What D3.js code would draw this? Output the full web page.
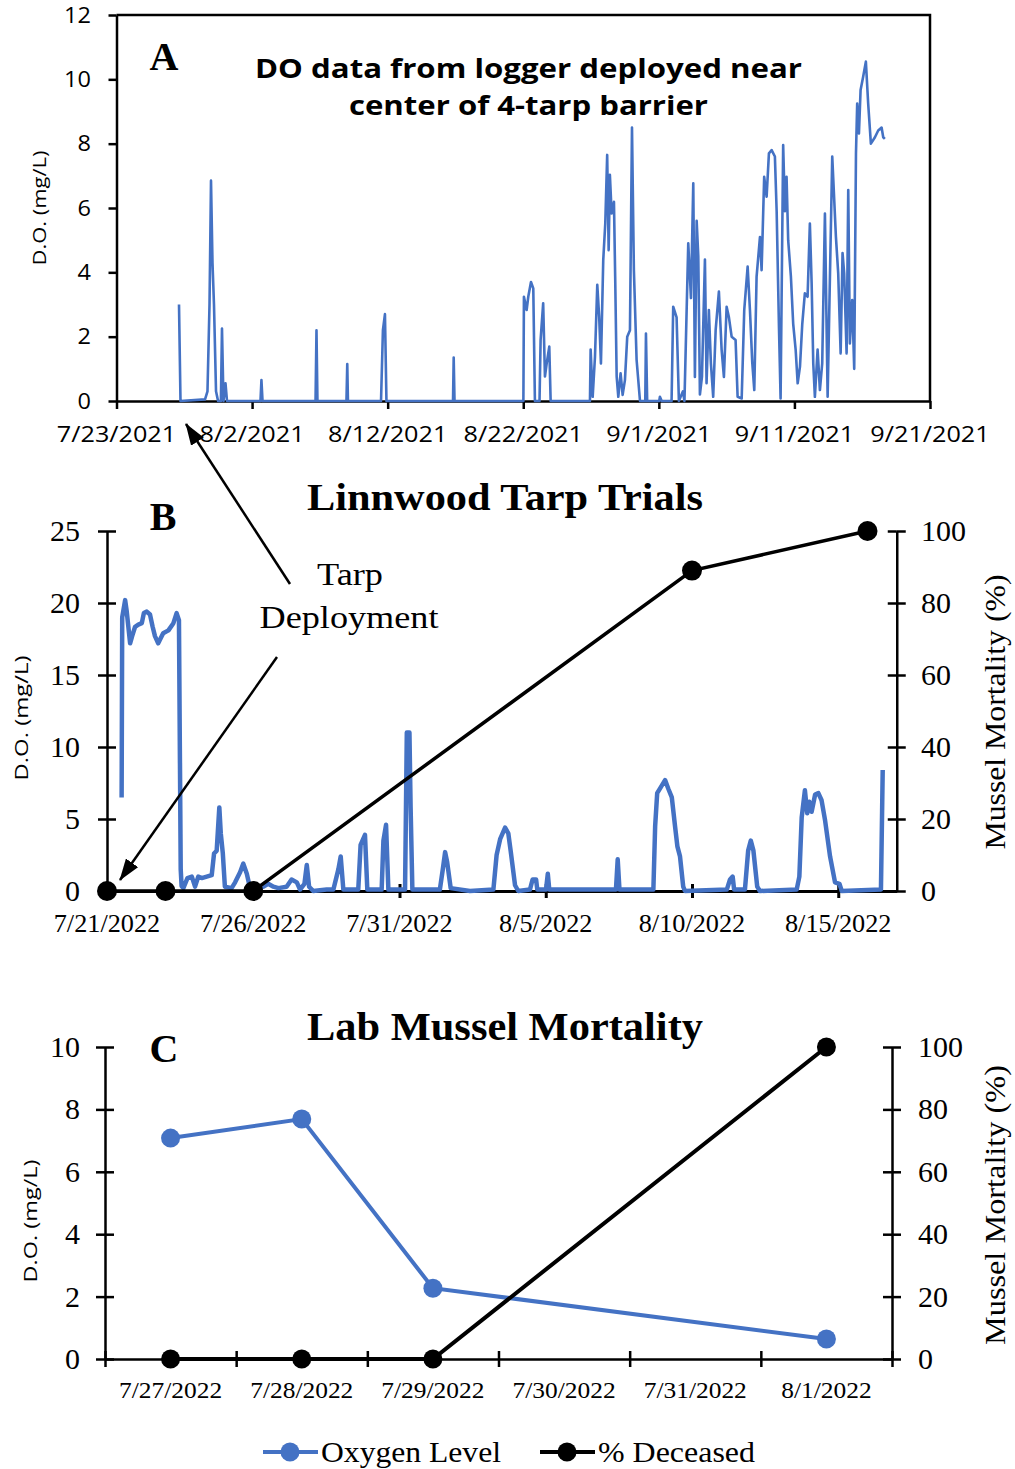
<!DOCTYPE html>
<html>
<head>
<meta charset="utf-8">
<script src="https://cdn.jsdelivr.net/npm/d3@7"></script>
<style>
  html, body { margin: 0; padding: 0; background: #fff; }
  svg { display: block; }
</style>
</head>
<body>
<svg id="fig" width="1015" height="1469"></svg>
<script>
// ---------- Panel A: logger DO, 2021 (days since 7/23/2021) ----------
const aStart = "2021-07-23";
const aTickLabels = ["7/23/2021", "8/2/2021", "8/12/2021", "8/22/2021", "9/1/2021", "9/11/2021", "9/21/2021"];
const aYTicks = [0, 2, 4, 6, 8, 10, 12];
const aDays = [
  4.61, 4.72, 6.53, 6.71, 6.86, 6.97, 7.08, 7.19, 7.34, 7.49, 7.70, 7.78, 7.89, 8.04, 8.15,
  10.62, 10.69, 10.77, 14.68, 14.75, 14.82, 16.96, 17.02, 17.07, 19.51, 19.65, 19.80, 19.91,
  24.82, 24.87, 24.93, 30.01, 30.05, 30.25, 30.37, 30.57, 30.74, 30.86, 31.20, 31.28, 31.47,
  31.60, 31.73, 31.92, 32.02, 34.92, 34.97, 35.12, 35.29, 35.46, 35.60, 35.73, 35.90, 36.05,
  36.19, 36.30, 36.39, 36.52, 36.69, 36.78, 36.89, 37.01, 37.18, 37.33, 37.50, 37.67, 37.87,
  38.02, 38.16, 38.36, 38.61, 39.00, 39.05, 39.14, 40.03, 40.08, 40.21,
  40.94, 41.06, 41.31, 41.48, 41.78, 41.89, 42.17, 42.37, 42.54, 42.66, 42.79, 42.91, 43.03,
  43.18, 43.40, 43.52, 43.69, 43.84, 44.01, 44.19, 44.43, 44.63, 44.80, 45.00, 45.17, 45.37,
  45.66, 45.81, 46.11, 46.30, 46.55, 46.72, 46.89, 47.04, 47.21, 47.46, 47.58, 47.77, 47.95,
  48.12, 48.32, 48.56, 48.69, 48.86, 48.98, 49.17, 49.30, 49.42, 49.54, 49.74, 49.91, 50.09,
  50.24, 50.41, 50.58, 50.77, 50.97, 51.14, 51.27, 51.39, 51.51, 51.71, 51.88, 52.05, 52.25,
  52.45, 52.79, 53.06, 53.23, 53.41, 53.55, 53.67, 53.85, 53.97, 54.09, 54.26, 54.41, 54.54,
  54.63, 54.76, 54.88, 55.07, 55.27, 55.44, 55.64, 55.94, 56.18, 56.43, 56.55, 56.67
];
const aDO = [
  3.0, 0, 0.05, 0.3, 3.0, 6.85, 4.3, 3.0, 0.3, 0, 0, 2.25, 0, 0.55, 0,
  0, 0.65, 0, 0, 2.2, 0, 0, 1.15, 0, 0, 2.2, 2.7, 0,
  0, 1.35, 0, 0, 3.24, 2.83, 3.24, 3.70, 3.50, 0, 0, 1.90, 3.04,
  0.76, 1.17, 1.69, 0, 0, 1.60, 0.13, 1.37, 3.61, 2.62, 1.17, 4.38, 5.52,
  7.65, 4.69, 7.03, 5.83, 6.19, 3.87, 0.76, 0.13, 0.86, 0.19, 0.65, 2.0, 2.2,
  8.5, 4.07, 1.28, 0, 0, 2.1, 0, 0, 0.13, 0,
  0, 2.93, 2.6, 0, 0.3, 0, 4.9, 3.2, 6.77, 0.75, 5.6, 4.5, 0.2,
  0.75, 4.4, 0.55, 2.83, 1.17, 0.13, 2.2, 3.4, 1.6, 0.75, 2.93, 2.6, 2.0,
  1.9, 0.13, 0.08, 2.83, 4.18, 2.83, 1.2, 0.34, 3.87, 5.1, 4.07, 6.97, 6.35,
  7.7, 7.8, 7.6, 5.9, 2.3, 0.08, 7.96, 5.9, 6.97, 5.0, 3.87, 2.4, 1.6,
  0.55, 1.07, 2.4, 3.35, 3.24, 5.52, 3.66, 1.17, 0.13, 1.6, 0.34, 1.17, 5.83,
  0.13, 7.6, 5.11, 3.97, 1.48, 4.6, 3.97, 1.48, 6.56, 1.79, 3.14, 1.0, 7.7,
  9.25, 8.32, 9.67, 10.08, 10.55, 9.25, 8.0, 8.2, 8.41, 8.5, 8.2, 8.15
];

// ---------- Panel B: Linnwood field trial, 2022 (days since 7/21/2022) ----------
const bStart = "2022-07-21";
const bTickLabels = ["7/21/2022", "7/26/2022", "7/31/2022", "8/5/2022", "8/10/2022", "8/15/2022"];
const bYTicks = [0, 5, 10, 15, 20, 25];
const bY2Ticks = [0, 20, 40, 60, 80, 100];
const bDays = [
  0.50, 0.52, 0.62, 0.67, 0.73, 0.79, 0.86, 0.96, 1.07, 1.19, 1.26, 1.36, 1.47, 1.56, 1.64,
  1.75, 1.92, 2.10, 2.27, 2.38, 2.46, 2.52, 2.55, 2.61, 2.75, 2.90, 3.01, 3.12, 3.24, 3.41,
  3.58, 3.66, 3.75, 3.84, 3.89, 3.96, 4.03, 4.26, 4.38, 4.55, 4.66, 4.78, 4.89, 5.12, 5.34,
  5.51, 5.69, 5.86, 6.14, 6.31, 6.49, 6.60, 6.75, 6.83, 6.91, 7.05, 7.51, 7.74, 7.91, 7.99,
  8.08, 8.59, 8.67, 8.82, 8.90, 9.39, 9.45, 9.54, 9.62, 10.19, 10.25, 10.34, 10.38, 10.44,
  11.38, 11.48, 11.56, 11.63, 11.75, 12.41, 13.21, 13.32, 13.44, 13.61, 13.72, 13.80, 13.95,
  14.06, 14.46, 14.55, 14.67, 14.71, 15.01, 15.07, 15.12, 17.40, 17.46, 17.52, 18.68, 18.74,
  18.81, 18.93, 19.08, 19.19, 19.31, 19.42, 19.50, 19.59, 19.70, 19.76, 21.19, 21.30, 21.39,
  21.44, 21.81, 21.92, 22.01, 22.10, 22.23, 22.32, 23.58, 23.67, 23.75, 23.86, 23.94, 24.01,
  24.09, 24.21, 24.32, 24.43, 24.55, 24.72, 24.89, 25.04, 25.12, 26.46, 26.52
];
const bDO = [
  6.5, 19.0, 20.2, 19.5, 18.35, 17.2, 17.7, 18.35, 18.5, 18.6, 19.3, 19.4, 19.2, 18.35, 17.7,
  17.2, 17.9, 18.1, 18.6, 19.3, 18.8, 1.5, 0.35, 0.2, 0.9, 1.0, 0.3, 1.0, 0.9, 1.0,
  1.1, 2.6, 2.8, 5.8, 4.0, 2.6, 0.3, 0.2, 0.6, 1.3, 1.9, 1.2, 0.2, 0.1, 0.3,
  0.5, 0.3, 0.2, 0.3, 0.8, 0.6, 0.1, 0.5, 1.8, 0.3, 0.0, 0.1, 0.1, 1.5, 2.4,
  0.1, 0.1, 3.2, 3.9, 0.1, 0.1, 3.5, 4.6, 0.1, 0.1, 11.0, 11.0, 5.8, 0.1,
  0.1, 1.5, 2.7, 2.0, 0.2, 0.0, 0.1, 2.5, 3.6, 4.4, 4.0, 2.8, 0.4,
  0.0, 0.1, 0.8, 0.8, 0.1, 0.1, 1.2, 0.1, 0.1, 2.2, 0.1, 0.1, 4.5,
  6.8, 7.2, 7.7, 7.1, 6.5, 4.5, 3.1, 2.4, 0.3, 0.0, 0.1, 0.8, 1.0,
  0.1, 0.1, 2.8, 3.5, 2.8, 0.3, 0.0, 0.1, 1.0, 5.1, 7.0, 5.4, 6.2,
  5.5, 6.7, 6.8, 6.3, 4.9, 2.4, 0.6, 0.5, 0.0, 0.1, 8.4
];
const bMortDays = [0, 2, 5, 20, 26];
const bMortPct = [0, 0, 0, 89, 100];

// ---------- Panel C: lab trial ----------
const cDates = ["7/27/2022", "7/28/2022", "7/29/2022", "7/30/2022", "7/31/2022", "8/1/2022"];
const cOxygen = [7.08, 7.69, 2.27, null, null, 0.64];
const cDeceased = [0, 0, 0, null, null, 100];
const cYTicks = [0, 2, 4, 6, 8, 10];
const cY2Ticks = [0, 20, 40, 60, 80, 100];

// ---------- shared styling ----------
const BLUE = "#4472C4";
const SERIF = "'Liberation Serif', 'Times New Roman', serif";
const SANS = "'Open Sans', 'Liberation Sans', sans-serif";
const DAY = 864e5;
const fromStart = (start, d) => new Date(Date.parse(start + "T00:00:00Z") + d * DAY);

const svg = d3.select("#fig");

function label(g, s, x, y, o) {
  const t = g.append("text").attr("x", x).attr("y", y).text(s)
    .style("font-family", o.f).style("font-size", o.s + "px")
    .style("font-weight", o.w || 400)
    .attr("text-anchor", o.a || "start").attr("fill", "#000");
  if (o.sx && o.sx !== 1) {
    const w = t.node().getComputedTextLength();
    t.attr("textLength", w * o.sx).attr("lengthAdjust", "spacingAndGlyphs");
  }
  if (o.len) t.attr("textLength", o.len).attr("lengthAdjust", "spacingAndGlyphs");
  if (o.rot) t.attr("transform", `rotate(${o.rot},${x},${y})`);
  return t;
}

// axis with ticks on one side, or crossing the line when drawn twice
function drawAxis(g, axisFn, scale, ticks, size, tx, ty, width, cross) {
  const mk = (sz) => axisFn(scale).tickValues(ticks).tickSizeInner(sz).tickSizeOuter(0).tickFormat("");
  const a = g.append("g").attr("transform", `translate(${tx},${ty})`).call(mk(size));
  a.selectAll("path,line").attr("stroke", "#000").attr("stroke-width", width);
  if (cross) {
    const b = g.append("g").attr("transform", `translate(${tx},${ty})`).call(mk(-size));
    b.select("path").remove();
    b.selectAll("line").attr("stroke", "#000").attr("stroke-width", width);
  }
}

const defs = svg.append("defs");
defs.append("marker").attr("id", "arrowHead")
  .attr("viewBox", "0 0 22 15").attr("refX", 21).attr("refY", 7.5)
  .attr("markerWidth", 22).attr("markerHeight", 15)
  .attr("markerUnits", "userSpaceOnUse").attr("orient", "auto")
  .append("path").attr("d", "M0,0 L22,7.5 L0,15 Z").attr("fill", "#000");

// ====================== Panel A ======================
{
  const g = svg.append("g");
  const x = d3.scaleUtc().domain([fromStart(aStart, 0), fromStart(aStart, 60)]).range([116.5, 930]);
  const y = d3.scaleLinear().domain([0, 12]).range([401, 15]);
  const xt = d3.range(0, 61, 10).map(d => fromStart(aStart, d));

  // frame
  g.append("path").attr("d", `M${x.range()[0]},${y(12)}H${x.range()[1]}V${y(0)}`)
    .attr("fill", "none").attr("stroke", "#000").attr("stroke-width", 2.5);
  drawAxis(g, d3.axisLeft, y, aYTicks, 8, x.range()[0], 0, 2.5, false);
  drawAxis(g, d3.axisBottom, x, xt, 8, 0, y(0), 2.5, false);

  const pts = aDays.map((d, i) => [fromStart(aStart, d), aDO[i]]);
  g.append("path").datum(pts)
    .attr("d", d3.line().x(d => x(d[0])).y(d => y(d[1])))
    .attr("fill", "none").attr("stroke", BLUE).attr("stroke-width", 2.6)
    .attr("stroke-linejoin", "round");

  aYTicks.forEach(v => label(g, String(v), 91, y(v) + 7.5, { f: SANS, s: 21, a: "end", sx: 1.12 }));
  xt.forEach((d, i) => label(g, aTickLabels[i], x(d), 442, { f: SANS, s: 21, a: "middle", sx: 1.2 }));
  label(g, "D.O. (mg/L)", 46, 208, { f: SANS, s: 19, a: "middle", len: 115, rot: -90 });
  label(g, "A", 164, 70, { f: SERIF, s: 40, w: 700, a: "middle" });
  label(g, "DO data from logger deployed near", 528.5, 78, { f: SANS, s: 27, w: 700, a: "middle", len: 547 });
  label(g, "center of 4-tarp barrier", 528.5, 115, { f: SANS, s: 27, w: 700, a: "middle", len: 359 });
}

// ====================== Panel B ======================
{
  const g = svg.append("g");
  const x = d3.scaleUtc().domain([fromStart(bStart, 0), fromStart(bStart, 27)]).range([107, 896.75]);
  const y = d3.scaleLinear().domain([0, 25]).range([891, 531]);
  const y2 = d3.scaleLinear().domain([0, 100]).range([891, 531]);
  const xt = d3.range(0, 26, 5).map(d => fromStart(bStart, d));

  drawAxis(g, d3.axisLeft, y, bYTicks, 9, x.range()[0], 0, 2.5, true);
  drawAxis(g, d3.axisRight, y2, bY2Ticks, 9, x.range()[1], 0, 2.5, true);
  drawAxis(g, d3.axisBottom, x, xt, 7, 0, y(0), 3, true);

  const pts = bDays.map((d, i) => [fromStart(bStart, d), bDO[i]]);
  g.append("path").datum(pts)
    .attr("d", d3.line().x(d => x(d[0])).y(d => y(d[1])))
    .attr("fill", "none").attr("stroke", BLUE).attr("stroke-width", 4.5)
    .attr("stroke-linejoin", "round");

  const mort = bMortDays.map((d, i) => [fromStart(bStart, d), bMortPct[i]]);
  g.append("path").datum(mort)
    .attr("d", d3.line().x(d => x(d[0])).y(d => y2(d[1])))
    .attr("fill", "none").attr("stroke", "#000").attr("stroke-width", 3.5);
  g.selectAll("circle.mort").data(mort).join("circle").attr("class", "mort")
    .attr("cx", d => x(d[0])).attr("cy", d => y2(d[1])).attr("r", 10).attr("fill", "#000");

  bYTicks.forEach(v => label(g, String(v), 80, y(v) + 10, { f: SERIF, s: 30, a: "end" }));
  bY2Ticks.forEach(v => label(g, String(v), 921, y2(v) + 10, { f: SERIF, s: 30, a: "start" }));
  xt.forEach((d, i) => label(g, bTickLabels[i], x(d), 932, { f: SERIF, s: 25, a: "middle", sx: 1.05 }));
  label(g, "D.O. (mg/L)", 28, 718, { f: SANS, s: 19, a: "middle", len: 125, rot: -90 });
  label(g, "Mussel Mortality  (%)", 1005, 712, { f: SERIF, s: 29, a: "middle", len: 275, rot: -90 });
  label(g, "B", 163, 530, { f: SERIF, s: 40, w: 700, a: "middle" });
  label(g, "Linnwood Tarp Trials", 505, 510, { f: SERIF, s: 38, w: 700, a: "middle", len: 396 });

  // tarp deployment callout
  label(g, "Tarp", 350, 585, { f: SERIF, s: 32, a: "middle", len: 66 });
  label(g, "Deployment", 349, 628, { f: SERIF, s: 32, a: "middle", len: 179 });
  g.append("line").attr("x1", 290).attr("y1", 584).attr("x2", 186).attr("y2", 424)
    .attr("stroke", "#000").attr("stroke-width", 2.5).attr("marker-end", "url(#arrowHead)");
  g.append("line").attr("x1", 277).attr("y1", 657).attr("x2", 120).attr("y2", 880)
    .attr("stroke", "#000").attr("stroke-width", 2.5).attr("marker-end", "url(#arrowHead)");
}

// ====================== Panel C ======================
{
  const g = svg.append("g");
  const x = d3.scaleBand().domain(cDates).range([105, 892]).padding(0);
  const cx = d => x(d) + x.bandwidth() / 2;
  const y = d3.scaleLinear().domain([0, 10]).range([1359, 1047]);
  const y2 = d3.scaleLinear().domain([0, 100]).range([1359, 1047]);
  const bounds = d3.range(cDates.length + 1).map(i => x.range()[0] + i * x.bandwidth());
  const xb = d3.scaleLinear().domain(x.range()).range(x.range());

  drawAxis(g, d3.axisLeft, y, cYTicks, 9, x.range()[0], 0, 2.5, true);
  drawAxis(g, d3.axisRight, y2, cY2Ticks, 9, x.range()[1], 0, 2.5, true);
  drawAxis(g, d3.axisBottom, xb, bounds, 8, 0, y(0), 2.5, true);

  const ox = cDates.map((d, i) => [d, cOxygen[i]]).filter(d => d[1] != null);
  const de = cDates.map((d, i) => [d, cDeceased[i]]).filter(d => d[1] != null);

  g.append("path").datum(ox).attr("d", d3.line().x(d => cx(d[0])).y(d => y(d[1])))
    .attr("fill", "none").attr("stroke", BLUE).attr("stroke-width", 4);
  g.selectAll("circle.ox").data(ox).join("circle").attr("class", "ox")
    .attr("cx", d => cx(d[0])).attr("cy", d => y(d[1])).attr("r", 9.5).attr("fill", BLUE);

  g.append("path").datum(de).attr("d", d3.line().x(d => cx(d[0])).y(d => y2(d[1])))
    .attr("fill", "none").attr("stroke", "#000").attr("stroke-width", 4);
  g.selectAll("circle.de").data(de).join("circle").attr("class", "de")
    .attr("cx", d => cx(d[0])).attr("cy", d => y2(d[1])).attr("r", 9.5).attr("fill", "#000");

  cYTicks.forEach(v => label(g, String(v), 80, y(v) + 10, { f: SERIF, s: 30, a: "end" }));
  cY2Ticks.forEach(v => label(g, String(v), 918, y2(v) + 10, { f: SERIF, s: 30, a: "start" }));
  cDates.forEach(d => label(g, d, cx(d), 1398, { f: SERIF, s: 24, a: "middle", sx: 1.06 }));
  label(g, "D.O. (mg/L)", 37, 1221, { f: SANS, s: 19, a: "middle", len: 123, rot: -90 });
  label(g, "Mussel Mortality  (%)", 1005, 1205, { f: SERIF, s: 29, a: "middle", len: 280, rot: -90 });
  label(g, "C", 164, 1062, { f: SERIF, s: 40, w: 700, a: "middle" });
  label(g, "Lab Mussel Mortality", 505, 1040, { f: SERIF, s: 40, w: 700, a: "middle", len: 396 });

  // legend
  const leg = [
    { name: "Oxygen Level", color: BLUE, x0: 263, len: 180 },
    { name: "% Deceased", color: "#000", x0: 540, len: 157 }
  ];
  leg.forEach(l => {
    g.append("line").attr("x1", l.x0).attr("x2", l.x0 + 55).attr("y1", 1452).attr("y2", 1452)
      .attr("stroke", l.color).attr("stroke-width", 4);
    g.append("circle").attr("cx", l.x0 + 27).attr("cy", 1452).attr("r", 9.5).attr("fill", l.color);
    label(g, l.name, l.x0 + 58, 1462, { f: SERIF, s: 29, a: "start", len: l.len });
  });
}
</script>
</body>
</html>
